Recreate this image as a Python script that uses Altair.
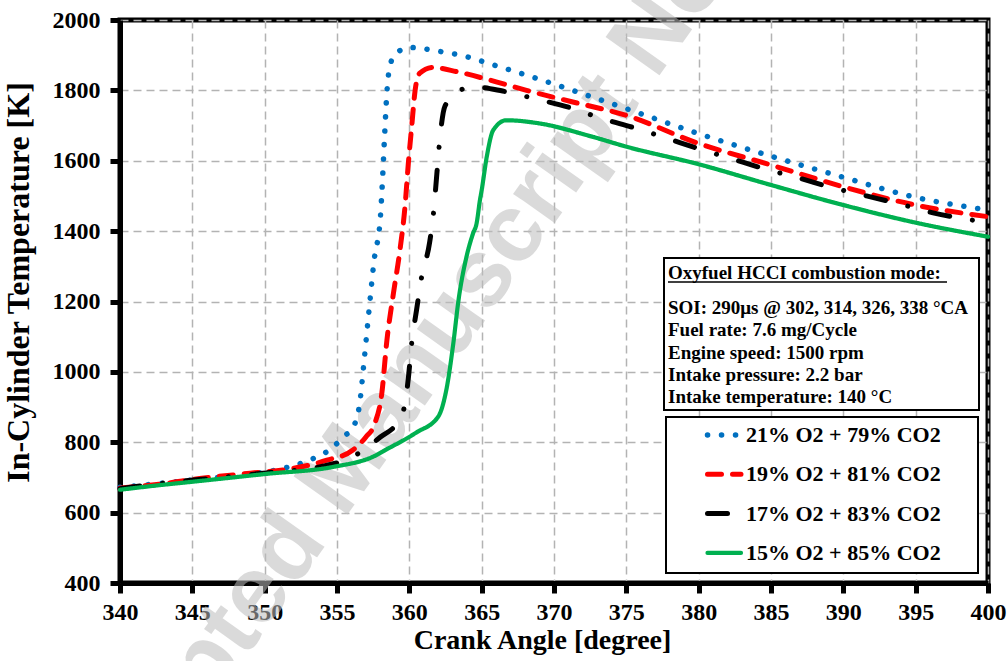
import altair as alt
import pandas as pd

# ---------------- data ----------------
labels = ["21% O2 + 79% CO2", "19% O2 + 81% CO2", "17% O2 + 83% CO2", "15% O2 + 85% CO2"]
colors = ["#0070C0", "#FF0000", "#000000", "#00B050"]

ca_21 = [340, 343, 345.5, 348, 351.3, 353.1, 354.75, 355.45, 356.13, 356.6, 356.8, 357.17, 357.57,
         358.0, 358.15, 358.3, 358.45, 358.66, 359.1, 360.05, 361.9, 363.85, 365.7, 367.5, 369.4,
         371.3, 375, 380, 385, 390, 395, 400]
t_21 = [672, 684, 695, 705, 726, 749, 787, 816, 844, 920, 1000, 1157, 1318,
        1440, 1550, 1680, 1795, 1870, 1906, 1922, 1912, 1897, 1874, 1851, 1826,
        1800, 1748, 1677, 1613, 1553, 1496, 1460]

ca_19 = [340, 343, 345.5, 349, 352, 354.3, 356.1, 357.0, 357.6, 358.1, 358.45, 358.9, 359.35,
         359.7, 359.93, 360.16, 360.4, 360.7, 361.65, 363.3, 365.6, 368.1, 371.3, 375, 380,
         385, 390, 395, 400]
t_19 = [670, 682, 697, 712, 726, 749, 778, 815, 852, 940, 1090, 1223, 1346,
        1470, 1592, 1696, 1800, 1848, 1865, 1853, 1829, 1800, 1767, 1729, 1649,
        1588, 1526, 1474, 1441]

ca_17 = [340, 343.2, 346.5, 350.1, 353.8, 356.1, 358.0, 359.24, 359.6, 359.93, 360.16, 360.5,
         360.85, 361.4, 361.68, 361.9, 362.1, 362.46, 363.5, 364.4, 366.45, 368.8, 371.1, 373.3,
         375.6, 377.86, 380.1, 382.4, 384.65, 387, 389.2, 391.6, 393.9, 396.2, 398.5, 400]
t_17 = [668, 685, 698, 713, 730, 759, 815, 860, 891, 981, 1081, 1176,
        1270, 1367, 1455, 1562, 1658, 1755, 1800, 1810, 1798, 1775, 1751, 1720,
        1693, 1663, 1633, 1604, 1576, 1550, 1524, 1500, 1477, 1452, 1434, 1425]

ca_15 = [340, 342.5, 345.07, 350.1, 354.75, 357.5, 358.66, 359.35, 360.5, 362.0, 362.6, 363.04,
         363.4, 363.95, 364.4, 364.65, 364.88, 365.0, 365.35, 365.8, 366.7, 369, 372.5, 375,
         380, 385, 390, 395, 400]
t_15 = [665, 677, 688, 710, 730, 759, 785, 800, 828, 873, 958, 1081,
        1204, 1327, 1393, 1422, 1488, 1516, 1611, 1687, 1715, 1706, 1670, 1640,
        1590, 1531, 1474, 1424, 1384]

x_ticks = list(range(340, 401, 5))
y_ticks = list(range(400, 2001, 200))

info_title = "Oxyfuel HCCI combustion mode:"
info_lines = ["SOI: 290μs @ 302, 314, 326, 338 °CA",
              "Fuel rate: 7.6 mg/Cycle",
              "Engine speed: 1500 rpm",
              "Intake pressure: 2.2 bar",
              "Intake temperature: 140 °C"]

watermark = ["Accepted", "Manuscript", "Not"]

# ---------------- styling ----------------
FONT = "Liberation Serif"
W, H = 868, 563
dashes = [[0.1, 13.9], [14, 11], [20, 23, 0.1, 23], [1, 0]]
widths = [5.5, 5, 5, 4.2]

x_enc = alt.X("ca:Q", scale=alt.Scale(domain=[340, 400], nice=False, zero=False),
              axis=alt.Axis(values=x_ticks, format="d", title="Crank Angle [degree]",
                            titleX=422, titleY=65, titleAlign="center",
                            titleBaseline="alphabetic", titleFontSize=28,
                            labelPadding=7, labelFlush=False, labelOverlap=False))
y_enc = alt.Y("temp:Q", scale=alt.Scale(domain=[400, 2000], nice=False, zero=False),
              axis=alt.Axis(values=y_ticks, format="d", title="In-Cylinder Temperature [K]",
                            titleAngle=270, titleX=-85, titleY=262, titleAlign="center",
                            titleBaseline="bottom", titleFontSize=32, labelPadding=10,
                            labelFlush=False, labelOverlap=False))

dummy = pd.DataFrame({"k": [0]})
layers = []

# watermark (publisher stamp)
wm_style = dict(angle=305.4, font="Liberation Sans", fontWeight="bold", fontSize=96,
                color="#bdbdbd", opacity=0.55, baseline="middle")
for word, al, px, py in zip(watermark, ["right", "left", "left"],
                            [184.5, 200, 512], [505, 483, 43.6]):
    layers.append(alt.Chart(dummy).mark_text(text=word, align=al, **wm_style)
                  .encode(x=alt.value(px), y=alt.value(py)))

# data lines
for lab, xs, ys, c, d, w in zip(labels, [ca_21, ca_19, ca_17, ca_15], [t_21, t_19, t_17, t_15],
                                colors, dashes, widths):
    df = pd.DataFrame({"ca": xs, "temp": ys, "series": lab})
    layers.append(alt.Chart(df).mark_line(color=c, strokeDash=d, strokeWidth=w,
                                          strokeCap="round", interpolate="monotone")
                  .encode(x=x_enc, y=y_enc))

# info box
layers.append(alt.Chart(dummy).mark_rect(fill="white", stroke="black", strokeWidth=2)
              .encode(x=alt.value(544), x2=alt.value(859), y=alt.value(238), y2=alt.value(390)))
info_style = dict(font=FONT, fontWeight="bold", fontSize=19, color="black",
                  align="left", baseline="middle")
layers.append(alt.Chart(dummy).mark_text(text=info_title, **info_style)
              .encode(x=alt.value(548), y=alt.value(253)))
layers.append(alt.Chart(dummy).mark_rule(color="black", strokeWidth=1.5)
              .encode(x=alt.value(548), x2=alt.value(827), y=alt.value(262)))
for i, line in enumerate(info_lines):
    layers.append(alt.Chart(dummy).mark_text(text=line, **info_style)
                  .encode(x=alt.value(548), y=alt.value(288 + 22.3 * i)))

# legend box
layers.append(alt.Chart(dummy).mark_rect(fill="white", stroke="black", strokeWidth=2)
              .encode(x=alt.value(546), x2=alt.value(858), y=alt.value(397), y2=alt.value(553)))
for i, (lab, c, d, w) in enumerate(zip(labels, colors, dashes, widths)):
    yy = 415 + 39.3 * i
    layers.append(alt.Chart(dummy).mark_rule(color=c, strokeDash=d, strokeWidth=w,
                                             strokeCap="round")
                  .encode(x=alt.value(587.5), x2=alt.value(621), y=alt.value(yy)))
    layers.append(alt.Chart(dummy).mark_text(text=lab, font=FONT, fontWeight="bold",
                                             fontSize=22, color="black", align="left",
                                             baseline="middle")
                  .encode(x=alt.value(626), y=alt.value(yy)))

chart = alt.layer(*layers).properties(
    width=W, height=H,
    autosize=alt.AutoSizeParams(type="none"),
    padding={"left": 120, "top": 20, "right": 20, "bottom": 78},
    background="white",
).configure_view(
    stroke="black", strokeWidth=5
).configure_axis(
    labelFont=FONT, labelFontSize=24, labelFontWeight="bold", labelColor="black",
    titleFont=FONT, titleFontWeight="bold", titleColor="black",
    domainColor="black", domainWidth=5, tickColor="black", tickWidth=5, tickSize=10,
    grid=True, gridColor="#b3b3b3", gridDash=[8, 5], gridWidth=1.5,
)

chart.save("out.html", embed_options={"renderer": "svg", "actions": False})
